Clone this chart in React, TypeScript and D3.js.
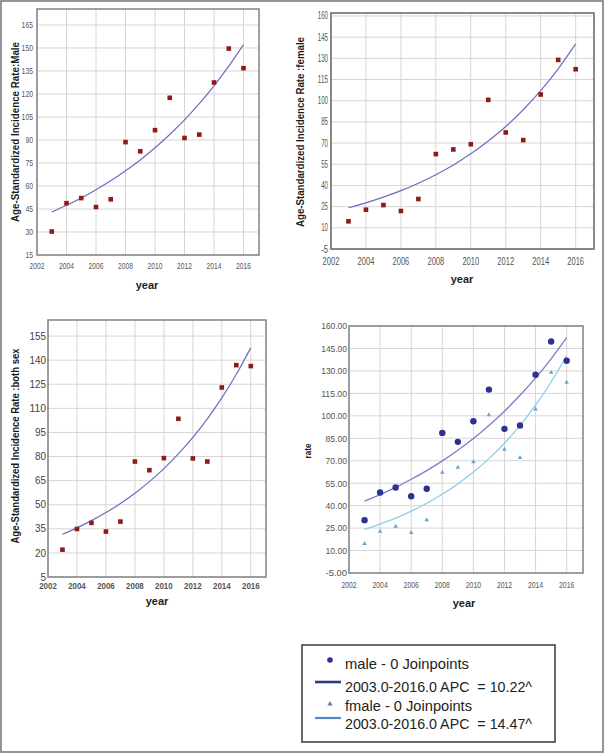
import React from 'react';
import * as d3 from 'd3';

const years = [2003, 2004, 2005, 2006, 2007, 2008, 2009, 2010, 2011, 2012, 2013, 2014, 2015, 2016];
const maleRates = [30.3, 48.8, 52.1, 46.3, 51.3, 88.6, 82.6, 96.4, 117.5, 91.3, 93.5, 127.5, 149.6, 136.8];
const femaleRates = [14.6, 22.8, 26.1, 21.9, 30.4, 62.2, 65.5, 69.2, 100.6, 77.5, 72.1, 104.4, 128.9, 122.3];
const bothRates = [22.0, 34.9, 38.7, 33.3, 39.5, 76.9, 71.5, 79.0, 103.5, 78.8, 76.9, 123.0, 136.9, 136.3];
const maleFit = [43.0, 47.4, 52.2, 57.6, 63.4, 69.9, 77.0, 84.9, 93.6, 103.1, 113.7, 125.3, 138.1, 152.2];
const femaleFit = [24.2, 27.7, 31.7, 36.3, 41.6, 47.6, 54.5, 62.4, 71.4, 81.7, 93.6, 107.1, 122.6, 140.3];
const bothFit = [31.6, 35.6, 40.1, 45.1, 50.8, 57.2, 64.4, 72.5, 81.6, 91.9, 103.5, 116.5, 131.2, 147.7];

const xTicks = [2002, 2004, 2006, 2008, 2010, 2012, 2014, 2016];
const maleTicks = [15, 30, 45, 60, 75, 90, 105, 120, 135, 150, 165];
const femaleTicks = [-5, 10, 25, 40, 55, 70, 85, 100, 115, 130, 145, 160];
const bothTicks = [5, 20, 35, 50, 65, 80, 95, 110, 125, 140, 155];
const rateTicks = [-5, 10, 25, 40, 55, 70, 85, 100, 115, 130, 145, 160];

const legendLabels = [
  'male - 0 Joinpoints',
  '2003.0-2016.0 APC  = 10.22^',
  'fmale - 0 Joinpoints',
  '2003.0-2016.0 APC  = 14.47^',
];

type Cfg = {
  x0: number; x1: number; y0: number; y1: number;
  yDom: [number, number];
  yTicks: number[];
  fmt: (v: number) => string;
  yFont: number; yCharW: number; yFill: string; yWeight?: string;
  xFont: number; xCharW: number; xFill: string; xWeight?: string;
  xLabelY: number; yTickGap: number;
  frame: string;
  yLabel: string; yLabelX: number; yLabelY: number; yLabelLen: number; yLabelFont: number;
  yearX: number; yearY: number;
};

const FONT = 'Liberation Sans, Arial, sans-serif';

function Panel({ cfg, marks }: { cfg: Cfg; marks: (x: d3.ScaleLinear<number, number>, y: d3.ScaleLinear<number, number>) => React.ReactNode }) {
  const x = d3.scaleLinear().domain([2002, 2017.05]).range([cfg.x0, cfg.x1]);
  const y = d3.scaleLinear().domain(cfg.yDom).range([cfg.y1, cfg.y0]);
  return (
    <g>
      {xTicks.map((t) => (
        <line key={'gx' + t} x1={x(t)} x2={x(t)} y1={cfg.y0} y2={cfg.y1} stroke="#d6d6d6" strokeWidth={1} />
      ))}
      {cfg.yTicks.map((t) => (
        <line key={'gy' + t} x1={cfg.x0} x2={cfg.x1} y1={y(t)} y2={y(t)} stroke="#d6d6d6" strokeWidth={1} />
      ))}
      {marks(x, y)}
      <rect x={cfg.x0} y={cfg.y0} width={cfg.x1 - cfg.x0} height={cfg.y1 - cfg.y0} fill="none" stroke={cfg.frame} strokeWidth={1.6} />
      {cfg.yTicks.map((t) => {
        const s = cfg.fmt(t);
        return (
          <text key={'ty' + t} x={cfg.x0 - cfg.yTickGap} y={y(t)} dy="0.35em" textAnchor="end"
            fontSize={cfg.yFont} fill={cfg.yFill} fontWeight={cfg.yWeight || 'normal'} fontFamily={FONT}
            textLength={s.length * cfg.yCharW} lengthAdjust="spacingAndGlyphs">{s}</text>
        );
      })}
      {xTicks.map((t) => {
        const s = String(t);
        return (
          <text key={'tx' + t} x={x(t)} y={cfg.xLabelY} dy="0.35em" textAnchor="middle"
            fontSize={cfg.xFont} fill={cfg.xFill} fontWeight={cfg.xWeight || 'normal'} fontFamily={FONT}
            textLength={s.length * cfg.xCharW} lengthAdjust="spacingAndGlyphs">{s}</text>
        );
      })}
      <text transform={`translate(${cfg.yLabelX},${cfg.yLabelY}) rotate(-90)`} textAnchor="middle" dy="0.35em"
        fontSize={cfg.yLabelFont} fontWeight="bold" fill="#1a1a1a" fontFamily={FONT}
        textLength={cfg.yLabelLen} lengthAdjust="spacingAndGlyphs">{cfg.yLabel}</text>
      <text x={cfg.yearX} y={cfg.yearY} dy="0.35em" textAnchor="middle" fontSize={11} fontWeight="bold" fill="#222" fontFamily={FONT}>year</text>
    </g>
  );
}

const intFmt = (v: number) => String(v);
const decFmt = (v: number) => v.toFixed(2);

const line = (x: any, y: any, vals: number[]) =>
  d3.line<number>().x((_, i) => x(years[i])).y((d) => y(d)).curve(d3.curveMonotoneX)(vals) || '';

const squares = (x: any, y: any, vals: number[]) =>
  vals.map((v, i) => (
    <rect key={'sq' + i} x={x(years[i]) - 2.3} y={y(v) - 2.3} width={4.6} height={4.6} fill="#8e1b1b" />
  ));

const cfg1: Cfg = {
  x0: 37, x1: 259, y0: 9, y1: 255, yDom: [15, 175.4], yTicks: maleTicks, fmt: intFmt,
  yFont: 9.5, yCharW: 3.8, yFill: '#555', xFont: 9.5, xCharW: 3.7, xFill: '#555', xLabelY: 266, yTickGap: 4,
  frame: '#8a8a8a', yLabel: 'Age-Standardized Incidence Rate:Male', yLabelX: 15, yLabelY: 132, yLabelLen: 180, yLabelFont: 10,
  yearX: 147, yearY: 285,
};
const cfg2: Cfg = {
  x0: 331, x1: 594, y0: 13, y1: 249, yDom: [-5, 162.1], yTicks: femaleTicks, fmt: intFmt,
  yFont: 10, yCharW: 3.4, yFill: '#555', xFont: 10, xCharW: 4.2, xFill: '#555', xLabelY: 261, yTickGap: 3,
  frame: '#6e6e6e', yLabel: 'Age-Standardized Incidence Rate :female', yLabelX: 300, yLabelY: 132, yLabelLen: 190, yLabelFont: 10,
  yearX: 462, yearY: 279,
};
const cfg3: Cfg = {
  x0: 48, x1: 266, y0: 320, y1: 577, yDom: [5, 165], yTicks: bothTicks, fmt: intFmt,
  yFont: 10.5, yCharW: 5.5, yFill: '#444', xFont: 9, xCharW: 4.4, xFill: '#555', xWeight: 'bold', xLabelY: 586, yTickGap: 2,
  frame: '#8a8a8a', yLabel: 'Age-Standardized Incidence Rate :both sex', yLabelX: 15, yLabelY: 446, yLabelLen: 195, yLabelFont: 10.5,
  yearX: 157, yearY: 601,
};
const cfg4: Cfg = {
  x0: 349, x1: 583, y0: 326, y1: 573, yDom: [-5, 160], yTicks: rateTicks, fmt: decFmt,
  yFont: 9.5, yCharW: 4.3, yFill: '#555', xFont: 9.5, xCharW: 3.8, xFill: '#555', xLabelY: 585, yTickGap: 2,
  frame: '#8a8a8a', yLabel: 'rate', yLabelX: 308, yLabelY: 451, yLabelLen: 15, yLabelFont: 8.5,
  yearX: 464, yearY: 603,
};

const triPath = d3.symbol().type(d3.symbolTriangle).size(9)() || '';
const legTri = d3.symbol().type(d3.symbolTriangle).size(12)() || '';

export default function App() {
  const legendX = 302, legendY = 645, legendW = 253, legendH = 97;
  const rowY = [664, 687, 706, 724];
  const rowLen = [124, 187, 127, 187];
  return (
    <svg width={605} height={754} style={{ position: 'absolute', left: 0, top: 0, background: '#fff' }}>
      <rect x={0} y={0} width={605} height={754} fill="#fff" />
      <rect x={1} y={1} width={602} height={751} fill="none" stroke="#7a7a7a" strokeWidth={1.6} />

      <Panel cfg={cfg1} marks={(x, y) => (
        <g>
          <path d={line(x, y, maleFit)} fill="none" stroke="#6f6bbf" strokeWidth={1.2} />
          {squares(x, y, maleRates)}
        </g>
      )} />
      <Panel cfg={cfg2} marks={(x, y) => (
        <g>
          <path d={line(x, y, femaleFit)} fill="none" stroke="#6f6bbf" strokeWidth={1.2} />
          {squares(x, y, femaleRates)}
        </g>
      )} />
      <Panel cfg={cfg3} marks={(x, y) => (
        <g>
          <path d={line(x, y, bothFit)} fill="none" stroke="#6f6bbf" strokeWidth={1.2} />
          {squares(x, y, bothRates)}
        </g>
      )} />
      <Panel cfg={cfg4} marks={(x, y) => (
        <g>
          <path d={line(x, y, maleFit)} fill="none" stroke="#8279c8" strokeWidth={1.3} />
          <path d={line(x, y, femaleFit)} fill="none" stroke="#8ecbea" strokeWidth={1.3} />
          {femaleRates.map((v, i) => (
            <path key={'tr' + i} d={triPath} transform={`translate(${x(years[i])},${y(v)})`} fill="#6aa6d2" />
          ))}
          {maleRates.map((v, i) => (
            <circle key={'ci' + i} cx={x(years[i])} cy={y(v)} r={3.2} fill="#2d3290" />
          ))}
        </g>
      )} />

      <rect x={legendX} y={legendY} width={legendW} height={legendH} fill="#fff" stroke="#444" strokeWidth={1.6} />
      <circle cx={330} cy={660} r={2.8} fill="#2d3290" />
      <line x1={315} x2={341} y1={682} y2={682} stroke="#2d3a8c" strokeWidth={2.6} />
      <path d={legTri} transform="translate(330,704)" fill="#4f86c6" />
      <line x1={315} x2={341} y1={718} y2={718} stroke="#4f86c6" strokeWidth={2.2} />
      {legendLabels.map((s, i) => (
        <text key={'lg' + i} x={345} y={rowY[i]} dy="0.35em" fontSize={15} fill="#222" fontFamily={FONT}
          style={{ whiteSpace: 'pre' }} textLength={rowLen[i]} lengthAdjust="spacingAndGlyphs">{s}</text>
      ))}
    </svg>
  );
}
